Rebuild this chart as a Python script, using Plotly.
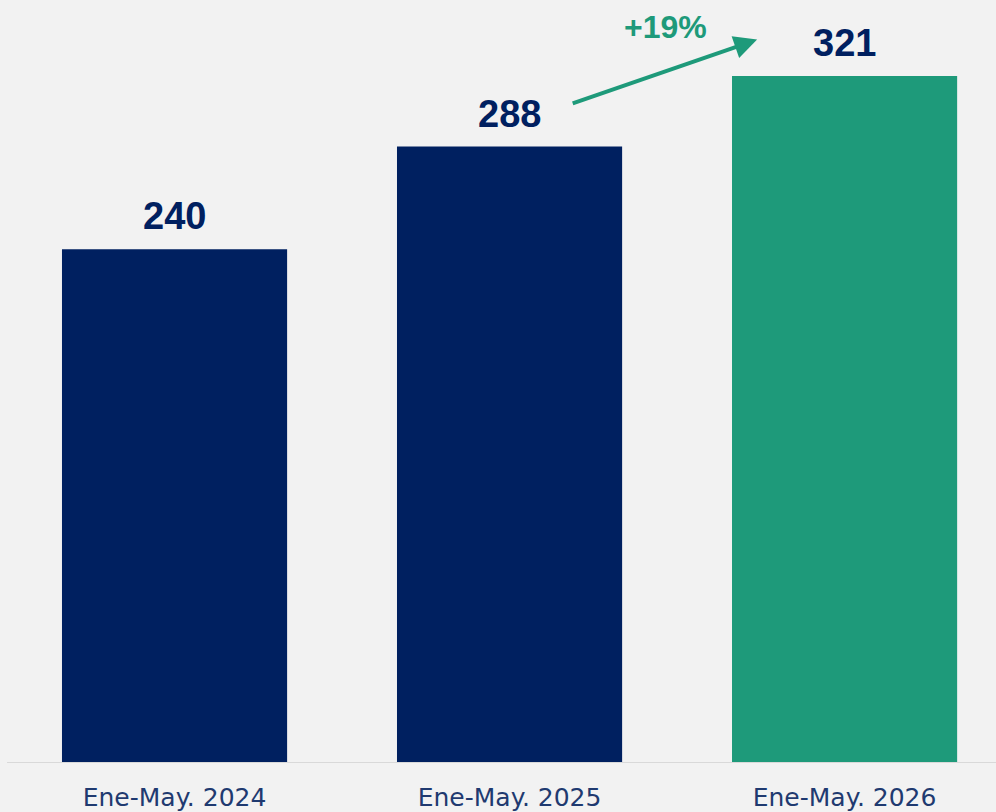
import plotly.graph_objects as go

categories = ["Ene-May. 2024", "Ene-May. 2025", "Ene-May. 2026"]
values = [240, 288, 321]
bar_colors = ["#002060", "#002060", "#1e9a7a"]
growth_label = "+19%"

NAVY = "#002060"
GREEN = "#1e9a7a"
BG = "#f2f2f2"

fig = go.Figure()
fig.add_trace(go.Bar(
    x=list(range(len(categories))),
    y=values,
    marker=dict(color=bar_colors, line=dict(width=0)),
    width=0.672,
    hoverinfo="skip",
))

# value labels
for i, v in enumerate(values):
    fig.add_annotation(
        x=i, y=v, text=f"<b>{v}</b>", showarrow=False,
        yanchor="bottom", yshift=10,
        font=dict(family="Liberation Sans, Arial", size=38, color=NAVY),
    )

# growth arrow from bar 2 to bar 3
fig.add_annotation(
    x=1.739, y=values[2] + 17,
    ax=1.184, ay=values[1] + 20,
    xref="x", yref="y", axref="x", ayref="y",
    text="", showarrow=True,
    arrowhead=2, arrowsize=1.15, arrowwidth=4, arrowcolor=GREEN,
)
fig.add_annotation(
    x=1.464, xref="x", y=1 - 27 / 763, yref="paper", yanchor="middle",
    text=f"<b>{growth_label}</b>", showarrow=False,
    font=dict(family="Liberation Sans, Arial", size=32, color=GREEN),
)

# baseline
fig.add_shape(type="line", xref="x", yref="y", x0=-0.5, x1=2.6, y0=0, y1=0,
              line=dict(color="#d9d9d9", width=2))

fig.update_layout(
    width=996, height=812,
    margin=dict(l=0, r=0, t=0, b=49),
    paper_bgcolor=BG, plot_bgcolor=BG,
    showlegend=False,
    xaxis=dict(
        range=[-0.521, 2.452],
        tickmode="array",
        tickvals=list(range(len(categories))),
        ticktext=categories,
        tickfont=dict(family="DejaVu Sans", size=25, color="#1f3a70"),
        showgrid=False, zeroline=False, showline=False, ticks="",
        ticklabelstandoff=17,
    ),
    yaxis=dict(range=[0, 356.5], visible=False, showgrid=False, zeroline=False),
)

fig.write_html(
    "out.html",
    config={"displayModeBar": False},
    post_script="document.body.style.margin='0';document.body.style.background='#f2f2f2';document.documentElement.style.overflow='hidden';",
)
